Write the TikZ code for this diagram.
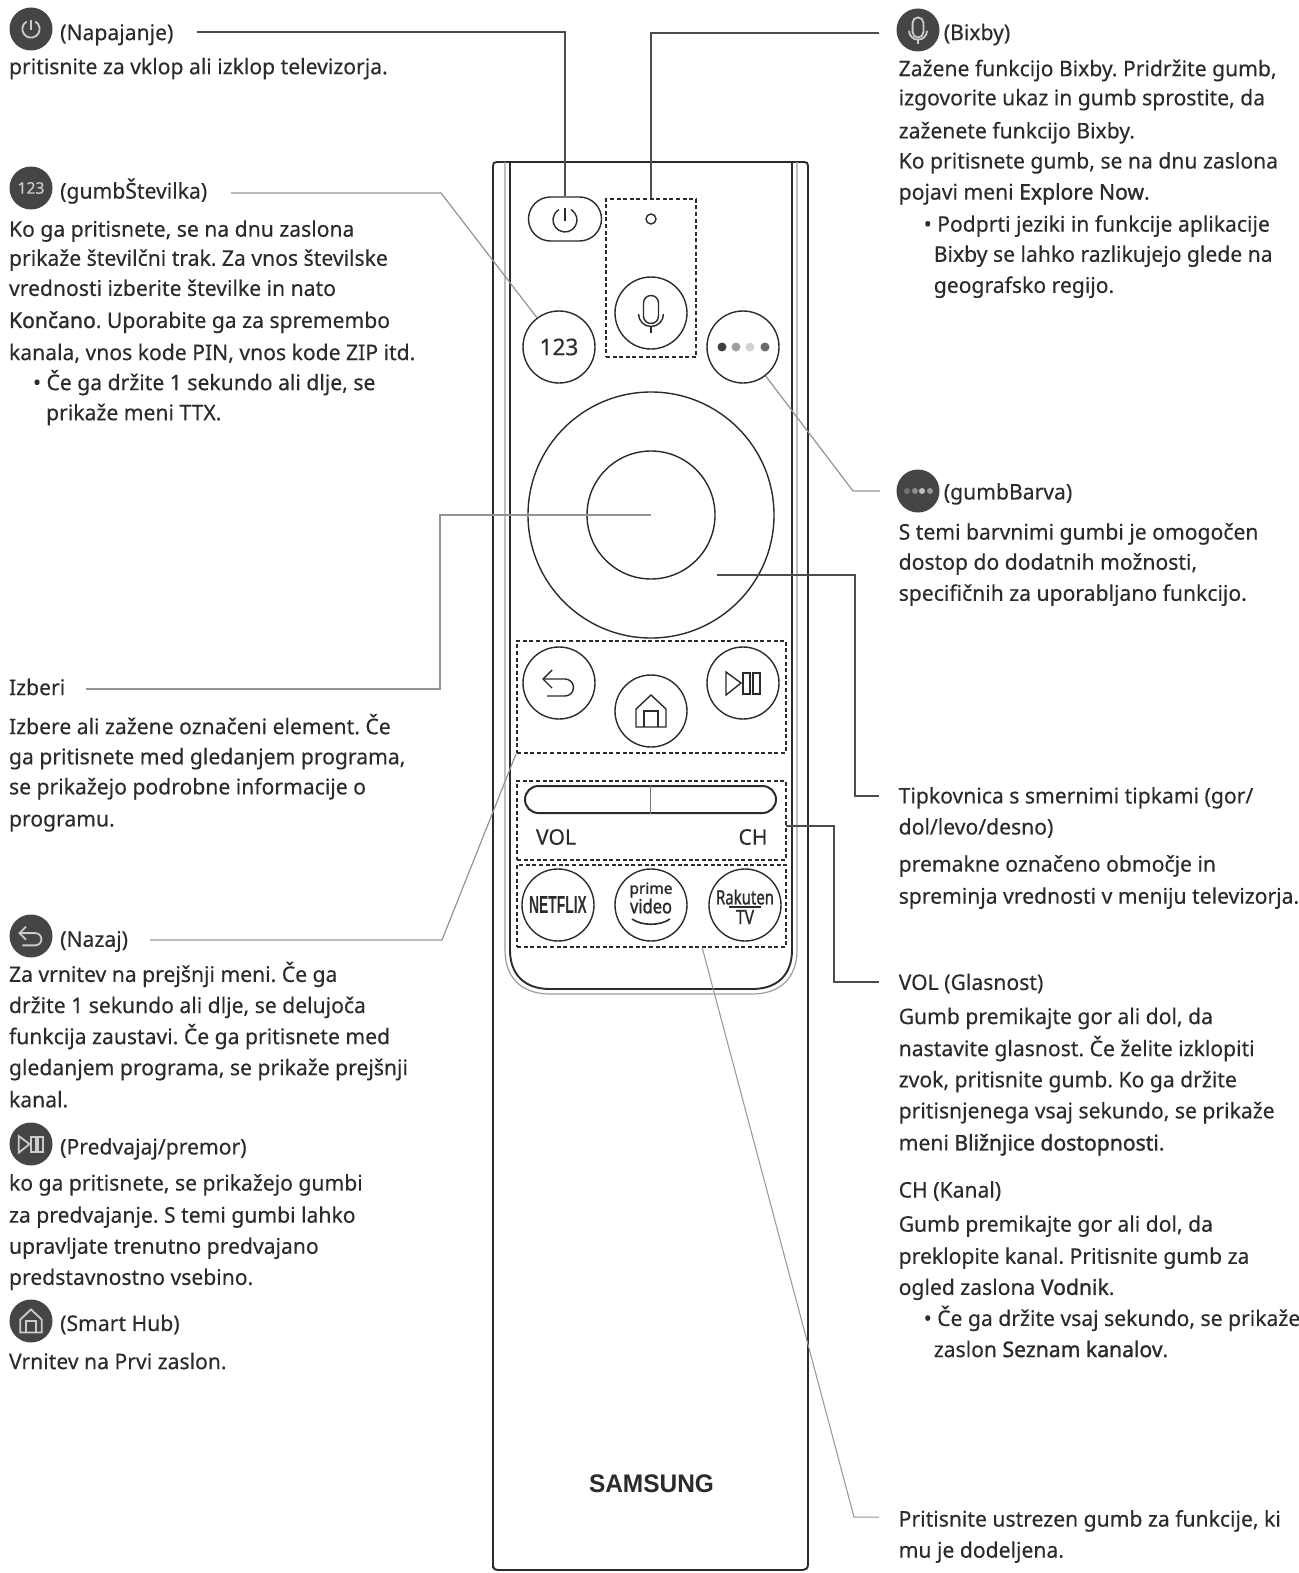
\documentclass[tikz,border=0pt]{standalone}
\usepackage{fontspec}
\usepackage{graphicx}
\usetikzlibrary{calc,shapes.misc}
\setmainfont[FakeStretch=0.983,FakeBold=0.25,BoldFont={Noto Sans},BoldFeatures={FakeBold=1.3}]{Noto Sans}
\newfontfamily\logofont{Liberation Sans}
\definecolor{ink}{gray}{0.17}
\definecolor{badge}{gray}{0.27}
\definecolor{badgeicon}{gray}{0.8}
\frenchspacing
\newcommand{\fitw}[3]{\setbox0=\hbox{#3}\pgfmathsetmacro{\fitx}{#1/(\wd0/1pt)}\pgfmathsetmacro{\fity}{#2/((\ht0+\dp0)/1pt)}\scalebox{\fitx}[\fity]{\box0}}
\newcommand{\tl}[4]{\node[txt] (#1) at ({#2*1.003},{#3*1.003+8}) {#4};}
\tikzset{
  x=1pt,y=-1pt,
  txt/.style={anchor=base west,inner sep=0pt,outer sep=0pt,text=ink,font=\fontsize{21.5}{25}\selectfont},
  wire/.style={draw=black!70,line width=1.3pt},
  lightwire/.style={draw=black!42,line width=1.2pt},
  btn/.style={circle,draw=ink,line width=1.4pt,minimum size=72pt,inner sep=0pt},
  dbox/.style={rectangle,draw=ink,line width=2pt,dash pattern=on 4pt off 2.6pt,inner sep=0pt},
  shell/.style={draw=ink,line width=1.9pt},
  trim/.style={draw=black!38,line width=1.2pt},
  icon/.style={draw=ink,line width=1.4pt,fill=none},
  dbadge/.style={circle,fill=badge,minimum size=43pt,inner sep=0pt},
  pics/powersym/.style={code={
    \draw[icon,pic actions] (-60:12) arc[start angle=-60,end angle=240,radius=12];
    \draw[icon,pic actions] (0,-12) -- (0,1);}},
  pics/micsym/.style={code={
    \draw[icon,pic actions] (-7.5,-10) arc[start angle=180,end angle=360,radius=7.5] -- (7.5,3) arc[start angle=0,end angle=180,radius=7.5] -- cycle;
    \draw[icon,pic actions] (-12.5,1) arc[start angle=180,end angle=0,radius=12.5];
    \draw[icon,pic actions] (0,13.5) -- (0,20);}},
  pics/backsym/.style={code={
    \draw[icon,pic actions] (-7,-13) -- (-16,-4) -- (-7,5);
    \draw[icon,pic actions] (-16,-4) -- (6,-4) arc[start angle=-90,end angle=90,radius=8.5] -- (-12,13);}},
  pics/homesym/.style={code={
    \draw[icon,pic actions] (-15,16) -- (-15,-2) -- (0,-16) -- (15,-2) -- (15,16) -- cycle;
    \draw[icon,pic actions] (-7,16) -- (-7,0) -- (7,0) -- (7,16);}},
  pics/playsym/.style={code={
    \draw[icon,pic actions] (-17,-11) -- (-17,12) -- (-2,0) -- cycle;
    \draw[icon,pic actions] (0,-10) rectangle (7,11);
    \draw[icon,pic actions] (10,-10) rectangle (17,11);}},
}
\begin{document}
\begin{tikzpicture}
\useasboundingbox (0,0) rectangle (1298,1573);
\fill[white] (0,0) rectangle (1298,1573);

% Remote control body and its inner trim
\draw[shell] (493,1568) -- (493,166) .. controls (493,163) and (494,162) .. (497,162) -- (804,162) .. controls (807,162) and (808,163) .. (808,166) -- (808,1564) .. controls (808,1568) and (806,1570) .. (803,1570) -- (498,1570) .. controls (495,1570) and (493,1569) .. (493,1566);
\draw[shell] (510,162) -- (510,950) .. controls (510,975) and (525,989) .. (550,989) -- (752,989) .. controls (777,989) and (792,975) .. (792,950) -- (792,162);
\draw[trim] (505,162) -- (505,950) .. controls (505,978) and (522,994) .. (550,994) -- (752,994) .. controls (780,994) and (797,978) .. (797,950) -- (797,162);

% Buttons on the remote
\node[rounded rectangle,draw=ink,line width=1.4pt,minimum width=73pt,minimum height=44pt,inner sep=0pt] (power) at (565,219) {};
\pic at (565,220) {powersym};
\node[dbox,minimum width=90pt,minimum height=158pt] (dmic) at (651,278) {};
\node[circle,draw=ink,line width=1.4pt,minimum size=10pt,inner sep=0pt] (mled) at (651,219) {};
\node[btn] (mic) at (651,313) {};
\pic at (651,313) {micsym};
\node[btn,text=ink,font=\fontsize{23}{25}\selectfont] (num) at (559,347) {123};
\node[btn] (dots) at (743,347) {};
\node[circle,fill=black!75,minimum size=9pt,inner sep=0pt] (dot1) at (722,347) {};
\node[circle,fill=black!38,minimum size=9pt,inner sep=0pt] (dot2) at (736,347) {};
\node[circle,fill=black!18,minimum size=9pt,inner sep=0pt] (dot3) at (750,347) {};
\node[circle,fill=black!58,minimum size=9pt,inner sep=0pt] (dot4) at (765,347) {};
\node[circle,draw=ink,line width=1.4pt,minimum size=246pt,inner sep=0pt] (ring) at (651,515) {};
\node[circle,draw=ink,line width=1.4pt,minimum size=128pt,inner sep=0pt] (ok) at (651,515) {};

\node[dbox,minimum width=269pt,minimum height=112pt] (dnav) at (651.5,697) {};
\node[btn] (back) at (559,683) {};
\pic at (559,683) {backsym};
\node[btn] (home) at (651,711) {};
\pic at (651,711) {homesym};
\node[btn] (play) at (743,683) {};
\pic at (743,683) {playsym};

\node[dbox,minimum width=269pt,minimum height=79pt] (dvol) at (651.5,820.5) {};
\node[rounded rectangle,draw=ink,line width=2pt,minimum width=251pt,minimum height=27pt,inner sep=0pt] (rocker) at (650.5,799.5) {};
\draw[draw=black!55,line width=1.6pt] (rocker.north) -- (rocker.south);
\node[txt,anchor=center] (vol) at (556,837) {VOL};
\node[txt,anchor=center] (ch) at (753,837) {CH};

\node[dbox,minimum width=269pt,minimum height=82pt] (dapps) at (651.5,906) {};
\node[btn] (netflix) at (558,905) {};
\node[text=ink,inner sep=0pt] (nflogo) at (558,905) {\fitw{58}{17}{\logofont\bfseries NETFLIX}};
\node[btn] (prime) at (651,905) {};
\node[text=ink,inner sep=0pt] (pmlogo) at (651,890) {\fitw{43}{15}{\bfseries prime}};
\node[text=ink,inner sep=0pt] (vdlogo) at (651,906) {\fitw{42}{15}{\bfseries video}};
\draw[draw=ink,line width=1.6pt] (632,919) .. controls (642,926) and (660,926) .. (670,919);
\node[btn] (rakuten) at (745,905) {};
\node[text=ink,inner sep=0pt] (rklogo) at (745,897) {\fitw{58}{15}{\bfseries Rakuten}};
\draw[draw=ink,line width=1.2pt] (729,907) -- (761,907);
\node[text=ink,inner sep=0pt] (tvlogo) at (745,917) {\fitw{18}{14}{\bfseries TV}};

\node[text=ink,inner sep=0pt] (brand) at (651.5,1484) {\fitw{125}{18}{\logofont\bfseries SAMSUNG}};

% Captions, left column
\node[dbadge] (bpower) at (31,29) {};
\pic[scale=0.72,icon/.append style={draw=badgeicon,line width=1.8pt}] at (31,29) {powersym};
\tl{tpower}{60}{32}{(Napajanje)}
\tl{l01}{9}{66}{pritisnite za vklop ali izklop televizorja.}

\node[dbadge,text=badgeicon,font=\fontsize{16}{18}\selectfont] (bnum) at (31,188) {123};
\tl{tnum}{60}{190}{(gumbŠtevilka)}
\tl{l02}{9}{228}{Ko ga pritisnete, se na dnu zaslona}
\tl{l03}{9}{257}{prikaže številčni trak. Za vnos številske}
\tl{l04}{9}{287}{vrednosti izberite številke in nato}
\tl{l05}{9}{319}{\textbf{Končano}. Uporabite ga za spremembo}
\tl{l06}{9}{351}{kanala, vnos kode PIN, vnos kode ZIP itd.}
\tl{l07}{33}{381}{• Če ga držite 1 sekundo ali dlje, se}
\tl{l08}{46}{411}{prikaže meni TTX.}

\tl{tsel}{9}{685}{Izberi}
\tl{l09}{9}{724}{Izbere ali zažene označeni element. Če}
\tl{l10}{9}{754}{ga pritisnete med gledanjem programa,}
\tl{l11}{9}{784}{se prikažejo podrobne informacije o}
\tl{l12}{9}{816}{programu.}

\node[dbadge] (bback) at (31,936) {};
\pic[scale=0.72,icon/.append style={draw=badgeicon,line width=1.8pt}] at (31,936) {backsym};
\tl{tback}{60}{936}{(Nazaj)}
\tl{l13}{9}{971}{Za vrnitev na prejšnji meni. Če ga}
\tl{l14}{9}{1002}{držite 1 sekundo ali dlje, se delujoča}
\tl{l15}{9}{1033}{funkcija zaustavi. Če ga pritisnete med}
\tl{l16}{9}{1064}{gledanjem programa, se prikaže prejšnji}
\tl{l17}{9}{1096}{kanal.}

\node[dbadge] (bplay) at (31,1144) {};
\pic[scale=0.72,icon/.append style={draw=badgeicon,line width=1.8pt}] at (31,1144) {playsym};
\tl{tplay}{60}{1143}{(Predvajaj/premor)}
\tl{l18}{9}{1179}{ko ga pritisnete, se prikažejo gumbi}
\tl{l19}{9}{1211}{za predvajanje. S temi gumbi lahko}
\tl{l20}{9}{1242}{upravljate trenutno predvajano}
\tl{l21}{9}{1273}{predstavnostno vsebino.}

\node[dbadge] (bhome) at (31,1321) {};
\pic[scale=0.72,icon/.append style={draw=badgeicon,line width=1.8pt}] at (31,1321) {homesym};
\tl{thome}{60}{1319}{(Smart Hub)}
\tl{l22}{9}{1357}{Vrnitev na Prvi zaslon.}

% Captions, right column
\node[dbadge] (bmic) at (918,30) {};
\pic[scale=0.72,icon/.append style={draw=badgeicon,line width=1.8pt}] at (918,30) {micsym};
\tl{tmic}{941}{32}{(Bixby)}
\tl{r01}{896}{68}{Zažene funkcijo Bixby. Pridržite gumb,}
\tl{r02}{896}{97}{izgovorite ukaz in gumb sprostite, da}
\tl{r03}{896}{130}{zaženete funkcijo Bixby.}
\tl{r04}{896}{160}{Ko pritisnete gumb, se na dnu zaslona}
\tl{r05}{896}{191}{pojavi meni \textbf{Explore Now}.}
\tl{r06}{921}{223}{• Podprti jeziki in funkcije aplikacije}
\tl{r07}{931}{253}{Bixby se lahko razlikujejo glede na}
\tl{r08}{931}{284}{geografsko regijo.}

\node[dbadge] (bdots) at (918,491) {};
\node[circle,fill=black!55,minimum size=6pt,inner sep=0pt] (bd1) at (907,491) {};
\node[circle,fill=black!45,minimum size=6pt,inner sep=0pt] (bd2) at (915,491) {};
\node[circle,fill=black!25,minimum size=6pt,inner sep=0pt] (bd3) at (922,491) {};
\node[circle,fill=black!40,minimum size=6pt,inner sep=0pt] (bd4) at (930,491) {};
\tl{tdots}{941}{490}{(gumbBarva)}
\tl{r09}{896}{530}{S temi barvnimi gumbi je omogočen}
\tl{r10}{896}{560}{dostop do dodatnih možnosti,}
\tl{r11}{896}{591}{specifičnih za uporabljano funkcijo.}

\tl{tdpad}{896}{793}{Tipkovnica s smernimi tipkami (gor/}
\tl{r12}{896}{824}{dol/levo/desno)}
\tl{r13}{896}{861}{premakne označeno območje in}
\tl{r14}{896}{893}{spreminja vrednosti v meniju televizorja.}

\tl{tvol}{896}{979}{VOL (Glasnost)}
\tl{r15}{896}{1013}{Gumb premikajte gor ali dol, da}
\tl{r16}{896}{1045}{nastavite glasnost. Če želite izklopiti}
\tl{r17}{896}{1076}{zvok, pritisnite gumb. Ko ga držite}
\tl{r18}{896}{1107}{pritisnjenega vsaj sekundo, se prikaže}
\tl{r19}{896}{1139}{meni \textbf{Bližnjice dostopnosti}.}
\tl{tch}{896}{1186}{CH (Kanal)}
\tl{r20}{896}{1220}{Gumb premikajte gor ali dol, da}
\tl{r21}{896}{1252}{preklopite kanal. Pritisnite gumb za}
\tl{r22}{896}{1283}{ogled zaslona \textbf{Vodnik}.}
\tl{r23}{921}{1314}{• Če ga držite vsaj sekundo, se prikaže}
\tl{r24}{931}{1345}{zaslon \textbf{Seznam kanalov}.}
\tl{tapps}{896}{1514}{Pritisnite ustrezen gumb za funkcije, ki}
\tl{r25}{896}{1545}{mu je dodeljena.}

% Leader lines between captions and buttons
\coordinate (wpower) at (197,32);
\coordinate (wnum) at (231,193);
\coordinate (wnumk) at (441,193);
\coordinate (wsel) at (86,689);
\coordinate (wselk) at (440,689);
\coordinate (wback) at (150,940);
\coordinate (wbackk) at (442,940);
\coordinate (wmic) at (879,33);
\coordinate (wdots) at (880,491);
\coordinate (wdotsk) at (853,491);
\coordinate (wdpad) at (879,796);
\coordinate (wdpadk) at (855,796);
\coordinate (wring) at (717,575);
\coordinate (wvol) at (879,982);
\coordinate (wvolk) at (834,982);
\coordinate (wvols) at (786,826);
\coordinate (wapps) at (879,1517);
\coordinate (wappsk) at (854,1517);
\coordinate (wappss) at (702,947);

\draw[wire] (wpower) -| (power.north);
\draw[wire] (wmic) -| (dmic.north);
\draw[lightwire] (wnum) -- (wnumk) -- (num.127);
\draw[lightwire] (wdots) -- (wdotsk) -- (dots.-52);
\draw[lightwire] (wsel) -- (wselk) |- (ok.center);
\draw[lightwire] (wback) -- (wbackk) -- (dnav.south west);
\draw[wire] (wring) -| (wdpadk) -- (wdpad);
\draw[wire] (wvols) -| (wvolk) -- (wvol);
\draw[lightwire,line width=1pt] (wappss) -- (wappsk) -- (wapps);
\end{tikzpicture}
\end{document}
